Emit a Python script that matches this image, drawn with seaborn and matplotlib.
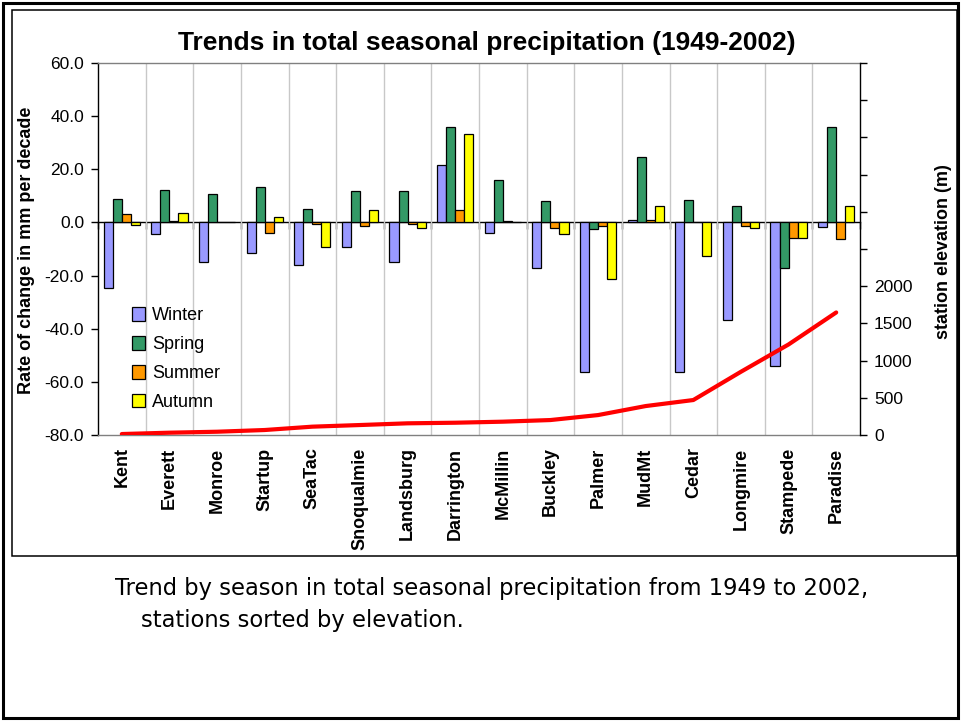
import numpy as np
import pandas as pd
import matplotlib
matplotlib.use("Agg")
import matplotlib.pyplot as plt
import seaborn as sns
from matplotlib.ticker import MultipleLocator, FuncFormatter, FixedLocator
from matplotlib.patches import Rectangle

stations = ["Kent", "Everett", "Monroe", "Startup", "SeaTac", "Snoqualmie", "Landsburg",
            "Darrington", "McMillin", "Buckley", "Palmer", "MudMt", "Cedar", "Longmire",
            "Stampede", "Paradise"]
winter = [-24.7, -4.2, -15.0, -11.4, -16.2, -9.4, -15.0, 21.5, -3.8, -17.2, -56.4, 0.9, -56.4, -36.7, -54.2, -1.6]
spring = [8.7, 12.3, 10.7, 13.3, 4.9, 11.7, 11.7, 35.9, 15.8, 8.1, -2.6, 24.6, 8.5, 6.1, -17.2, 35.9]
summer = [3.1, 0.4, 0.0, -3.8, -0.5, -1.5, -0.5, 4.5, 0.4, -2.1, -1.5, 1.0, 0.0, -1.5, -5.8, -6.3]
autumn = [-1.1, 3.5, 0.0, 2.0, -9.4, 4.5, -2.1, 33.4, 0.0, -4.2, -21.4, 6.1, -12.6, -2.1, -5.8, 6.1]
elevation = [13, 31, 44, 67, 112, 134, 157, 165, 179, 201, 268, 389, 470, 850, 1217, 1647]
seasons = ["Winter", "Spring", "Summer", "Autumn"]
colors = ["#9999FF", "#339966", "#FF9900", "#FFFF00"]
left_ticks = [-80, -60, -40, -20, 0, 20, 40, 60]

sns.set_theme(style="white")
plt.rcParams["font.family"] = ["Liberation Sans", "DejaVu Sans"]
for k in ["text.color", "axes.labelcolor", "xtick.color", "ytick.color"]:
    plt.rcParams[k] = "black"

W, H = 963, 721
fig = plt.figure(figsize=(W / 100, H / 100), dpi=100)
L, R, T, B = 98, 860, 63, 435
ax = fig.add_axes([L / W, 1 - B / H, (R - L) / W, (B - T) / H])

df = pd.DataFrame({"station": stations, "Winter": winter, "Spring": spring,
                   "Summer": summer, "Autumn": autumn})
long = df.melt(id_vars="station", var_name="season", value_name="trend")

sns.barplot(data=long, x="station", y="trend", hue="season", order=stations,
            hue_order=seasons, palette=colors, saturation=1, width=0.76, gap=0,
            edgecolor="black", linewidth=0.9, errorbar=None, ax=ax, zorder=3)

n = len(stations)
ax.set_xlim(-0.5, n - 0.5)
ax.set_ylim(-80, 60)
ax.set_yticks(left_ticks)
ax.yaxis.set_major_formatter(FuncFormatter(lambda v, p: f"{v:.1f}"))
ax.tick_params(axis="y", direction="out", length=5, width=1, color="black",
               labelsize=12.5, pad=5, left=True, labelcolor="black")
ax.set_xlabel("")
ax.set_ylabel("")
ax.tick_params(axis="x", which="major", length=0, labelsize=13, pad=9,
               labelcolor="black")
for lab in ax.get_xticklabels():
    lab.set_rotation(90)
    lab.set_fontweight("bold")
    lab.set_va("top")
    lab.set_ha("center")
bounds = np.arange(0.5, n - 0.5, 1)
ax.xaxis.set_minor_locator(FixedLocator(bounds))
ax.tick_params(axis="x", which="minor", length=0)
ax.grid(False)
ax.grid(which="minor", axis="x", color="#C8C8C8", lw=1, zorder=0)
ax.set_axisbelow(True)
for s in ["top", "bottom"]:
    ax.spines[s].set_color("#808080")
    ax.spines[s].set_linewidth(1)
ax.spines["left"].set_color("black")
ax.spines["left"].set_linewidth(1)
ax.spines["right"].set_visible(False)

# zero axis with category ticks
sec = ax.secondary_xaxis(80 / 140)
sec.set_alignment("bottom")
sec.set_xticks(np.arange(-0.5, n, 1))
sec.tick_params(direction="out", length=5, width=1, color="black", labelbottom=False,
                labeltop=False)
sec.spines["bottom"].set_color("black")
sec.spines["bottom"].set_linewidth(1)

# legend
handles, labels = ax.get_legend_handles_labels()
for h in handles:
    h.set_edgecolor("black")
    h.set_linewidth(0.9)
ax.legend(handles, labels, loc="upper left", bbox_to_anchor=(0.044, 0.343),
          frameon=False, fontsize=13, handlelength=0.75, handleheight=0.75,
          handletextpad=0.4, labelspacing=0.66, borderpad=0, borderaxespad=0)

# elevation line
ax2 = ax.twinx()
sns.lineplot(x=np.arange(n), y=elevation, ax=ax2, color="#FF0000", lw=3, zorder=5)
ax2.set_xlim(-0.5, n - 0.5)
ax2.set_ylim(0, 5000)
ax2.yaxis.set_major_locator(MultipleLocator(500))
ax2.yaxis.set_major_formatter(FuncFormatter(lambda v, p: f"{v:.0f}" if v <= 2000 else ""))
ax2.tick_params(axis="y", direction="out", length=5, width=1, color="black",
                labelsize=12.5, pad=5, right=True, labelcolor="black")
ax2.set_ylabel("")
ax2.grid(False)
for s in ["top", "bottom", "left"]:
    ax2.spines[s].set_visible(False)
ax2.spines["right"].set_color("black")
ax2.spines["right"].set_linewidth(1)

# texts
fig.text(487 / W, 1 - 43 / H, "Trends in total seasonal precipitation (1949-2002)",
         ha="center", va="center", fontsize=19, fontweight="bold")
fig.text(27 / W, 1 - 250 / H, "Rate of change in mm per decade", rotation=90,
         ha="center", va="center", fontsize=13, fontweight="bold")
fig.text(943 / W, 1 - 252 / H, "station elevation (m)", rotation=90,
         ha="center", va="center", fontsize=13, fontweight="bold")
fig.text(115 / W, 1 - 588 / H,
         "Trend by season in total seasonal precipitation from 1949 to 2002,",
         ha="left", va="center", fontsize=16.3, family=["DejaVu Sans"])
fig.text(141 / W, 1 - 620 / H, "stations sorted by elevation.",
         ha="left", va="center", fontsize=16.3, family=["DejaVu Sans"])

# frames
fig.patches.append(Rectangle((3 / W, 3 / H), (958 - 3) / W, (718 - 3) / H,
                             transform=fig.transFigure, fill=False, lw=2.2,
                             ec="black"))
fig.patches.append(Rectangle((12 / W, 1 - 556 / H), (957 - 12) / W, (556 - 10) / H,
                             transform=fig.transFigure, fill=False, lw=1.1,
                             ec="black"))

fig.savefig("out.png", dpi=100)
